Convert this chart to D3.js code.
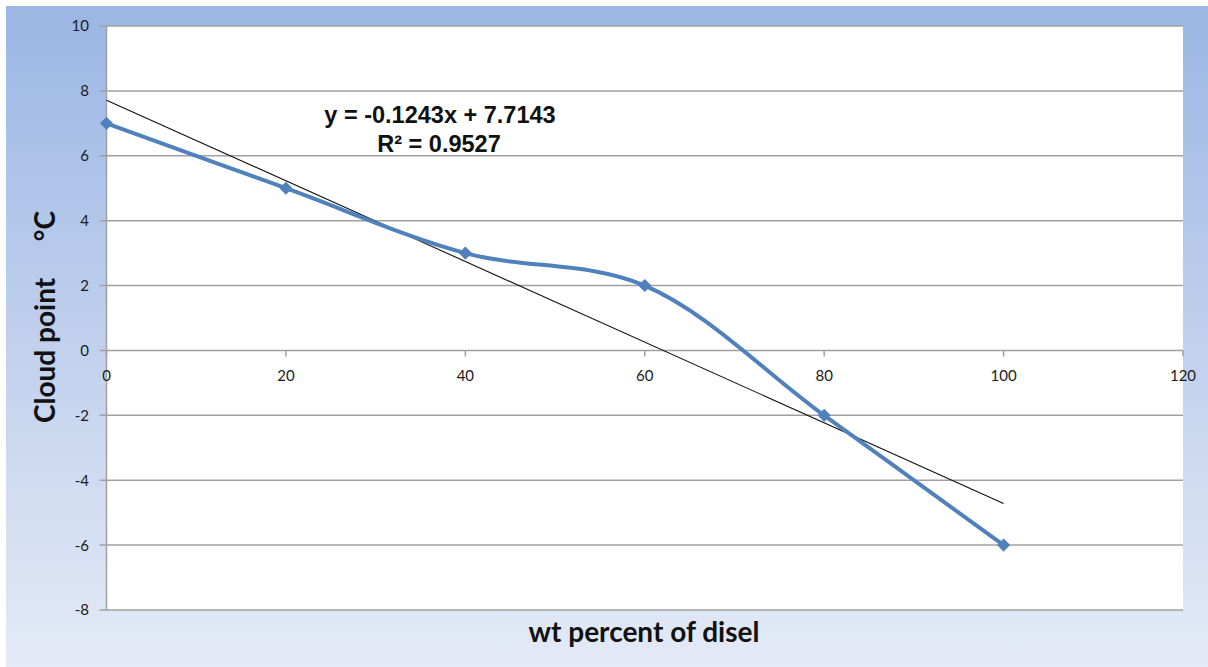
<!DOCTYPE html>
<html><head><meta charset="utf-8">
<script src="https://cdn.jsdelivr.net/npm/d3@7"></script>
<style>body{margin:0;background:#fff}svg{display:block}</style>
</head><body>
<svg id="c" width="1208" height="667"></svg>
<script>
const xValues = [0, 20, 40, 60, 80, 100];
const cloudPoint = [7, 5, 3, 2, -2, -6];
const xTicks = [0, 20, 40, 60, 80, 100, 120];
const yTicks = [-8, -6, -4, -2, 0, 2, 4, 6, 8, 10];
const trendSlope = -0.1243, trendIntercept = 7.7143;
const trendRange = [0, 100];
const eqLabel = "y = -0.1243x + 7.7143";
const r2Label = "R² = 0.9527";

const svg = d3.select("#c");
const defs = svg.append("defs");
const g = defs.append("linearGradient").attr("id","bg").attr("x1",0).attr("y1",0).attr("x2",0).attr("y2",1);
g.append("stop").attr("offset","0%").attr("stop-color","#9bb6e4");
g.append("stop").attr("offset","100%").attr("stop-color","#e4eaf6");
svg.append("rect").attr("x",6).attr("y",6).attr("width",1202).attr("height",661).attr("fill","url(#bg)");

const L=106.5, R=1183, T=26, B=610;
const x = d3.scaleLinear().domain([0,120]).range([L,R]);
const y = d3.scaleLinear().domain([-8,10]).range([B,T]);

svg.append("rect").attr("x",L).attr("y",T).attr("width",R-L).attr("height",B-T).attr("fill","#fff");

// gridlines
svg.append("g").selectAll("line").data(yTicks).join("line")
  .attr("x1",L-7).attr("x2",R).attr("y1",d=>y(d)).attr("y2",d=>y(d))
  .attr("stroke","#a0a0a0").attr("stroke-width",1.5);
// y axis line
svg.append("line").attr("x1",L).attr("x2",L).attr("y1",T).attr("y2",B).attr("stroke","#a0a0a0").attr("stroke-width",1.5);
// x tick marks at y=0
svg.append("g").selectAll("line").data(xTicks).join("line")
  .attr("x1",d=>x(d)).attr("x2",d=>x(d)).attr("y1",y(0)).attr("y2",y(0)+6)
  .attr("stroke","#a0a0a0").attr("stroke-width",1.5);

const tf = "Lato, 'Open Sans', sans-serif";
svg.append("g").selectAll("text").data(yTicks).join("text")
  .attr("x",89).attr("y",d=>y(d)).attr("dy","0.36em").attr("text-anchor","end")
  .attr("font-family",tf).attr("font-size",15).attr("fill","#1a1a1a").text(d=>d);
svg.append("g").selectAll("text").data(xTicks).join("text")
  .attr("x",d=>x(d)).attr("y",y(0)+31).attr("text-anchor","middle")
  .attr("font-family",tf).attr("font-size",15).attr("fill","#1a1a1a").text(d=>d);

// trendline
svg.append("line")
  .attr("x1",x(trendRange[0])).attr("y1",y(trendSlope*trendRange[0]+trendIntercept))
  .attr("x2",x(trendRange[1])).attr("y2",y(trendSlope*trendRange[1]+trendIntercept))
  .attr("stroke","#111").attr("stroke-width",1.1);

const pts = xValues.map((v,i)=>[v,cloudPoint[i]]);
svg.append("path").datum(pts)
  .attr("d", d3.line().x(d=>x(d[0])).y(d=>y(d[1])).curve(d3.curveCatmullRom.alpha(0.5)))
  .attr("fill","none").attr("stroke","#4f81bd").attr("stroke-width",4);
svg.append("g").selectAll("path").data(pts).join("path")
  .attr("transform",d=>`translate(${x(d[0])},${y(d[1])})`)
  .attr("d", d3.symbol(d3.symbolDiamond2, 110)())
  .attr("fill","#4f81bd");

// equation
const ef = "'Liberation Sans', Arial, sans-serif";
svg.append("text").attr("x",440).attr("y",123).attr("text-anchor","middle")
  .attr("font-family",ef).attr("font-weight","bold")
  .attr("font-size",23.5).attr("fill","#111").text(eqLabel);
svg.append("text").attr("x",439).attr("y",152).attr("text-anchor","middle")
  .attr("font-family",ef).attr("font-weight","bold")
  .attr("font-size",23.5).attr("fill","#111").text(r2Label);

// axis titles
svg.append("text").attr("x",644).attr("y",642).attr("text-anchor","middle")
  .attr("font-family",tf).attr("font-weight","bold").attr("font-size",28).attr("fill","#111")
  .text("wt percent of disel");
const yt = svg.append("g").attr("transform","translate(55,0) rotate(-90)");
yt.append("text").attr("x",-423).attr("y",0).attr("text-anchor","start")
  .attr("font-family",tf).attr("font-weight","bold").attr("font-size",28).attr("fill","#111")
  .text("Cloud point");
yt.append("text").attr("x",-211).attr("y",0).attr("text-anchor","end")
  .attr("font-family",tf).attr("font-weight","bold").attr("font-size",28).attr("fill","#111")
  .text("°C");
</script>
</body></html>
